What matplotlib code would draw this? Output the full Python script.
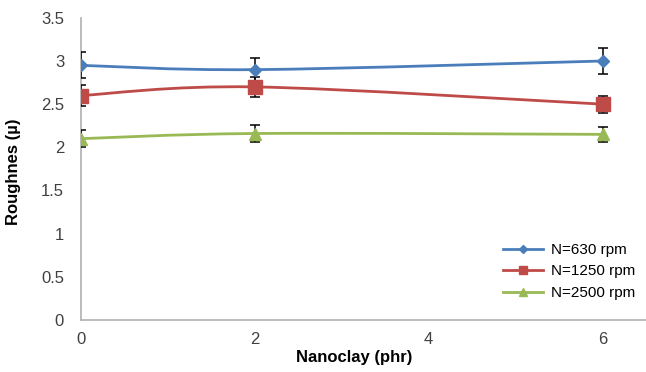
import numpy as np
import matplotlib.pyplot as plt
from matplotlib.path import Path
from matplotlib.patches import PathPatch

plt.rcParams['font.family'] = ['Liberation Sans', 'DejaVu Sans']

# data
nanoclay = [0, 2, 6]
labels = ['N=630 rpm', 'N=1250 rpm', 'N=2500 rpm']
rough_630 = [2.95, 2.90, 3.00]
rough_1250 = [2.60, 2.70, 2.50]
rough_2500 = [2.10, 2.16, 2.15]
err_630 = [0.15, 0.14, 0.15]
err_1250 = [0.12, 0.12, 0.10]
err_2500 = [0.10, 0.10, 0.09]

colors = ['#4A7EBB', '#BE4B48', '#98B954']
markers = ['D', 's', '^']
msizes = [6.5, 10, 9]

def smooth_path(x, y):
    # excel style smoothed line: cubic bezier through the points
    x = np.asarray(x, float)
    y = np.asarray(y, float)
    n = len(x)
    verts = [(x[0], y[0])]
    codes = [Path.MOVETO]
    for i in range(n - 1):
        i0 = max(i - 1, 0)
        i3 = min(i + 2, n - 1)
        c1 = (x[i] + (x[i+1] - x[i0]) / 6, y[i] + (y[i+1] - y[i0]) / 6)
        c2 = (x[i+1] - (x[i3] - x[i]) / 6, y[i+1] - (y[i3] - y[i]) / 6)
        verts += [c1, c2, (x[i+1], y[i+1])]
        codes += [Path.CURVE4] * 3
    return Path(verts, codes)

fig = plt.figure(figsize=(6.46, 3.72), dpi=100)
ax = fig.add_axes([0.125, 0.14, 0.875, 0.812])

series = [rough_630, rough_1250, rough_2500]
errs = [err_630, err_1250, err_2500]
for s, e, c, m, ms, lab in zip(series, errs, colors, markers, msizes, labels):
    ax.add_patch(PathPatch(smooth_path(nanoclay, s), fill=False, edgecolor=c, lw=2.0, zorder=2))
    ax.errorbar(nanoclay, s, yerr=e, fmt='none', ecolor='black', elinewidth=1.1,
                capsize=3.5, capthick=1.1, zorder=3)
    ax.plot(nanoclay, s, linestyle='none', marker=m, color=c, markersize=ms, zorder=4)
    ax.plot([], [], color=c, lw=2.0, marker=m, markersize=ms * 0.6, label=lab)

ax.set_xlim(0, 6.5)
ax.set_ylim(0, 3.5)
ax.set_xticks([0, 2, 4, 6])
ax.set_yticks(np.arange(0, 3.51, 0.5))
ax.set_yticklabels(['0', '0.5', '1', '1.5', '2', '2.5', '3', '3.5'])
ax.tick_params(length=0, labelsize=12, colors='#404040')
ax.tick_params(axis='y', pad=12)
ax.tick_params(axis='x', pad=9)
for side in ['top', 'right']:
    ax.spines[side].set_visible(False)
for side in ['left', 'bottom']:
    ax.spines[side].set_color('#b0b0b0')
    ax.spines[side].set_linewidth(1.2)

ax.set_xlabel('Nanoclay (phr)', fontsize=12, fontweight='bold', labelpad=4)
ax.set_ylabel('Roughnes (\u00b5)', fontsize=12, fontweight='bold', labelpad=8)
ax.yaxis.set_label_coords(-0.105, 0.49)
ax.xaxis.set_label_coords(0.483, -0.1)
ax.xaxis.label.set_va('top')

ax.legend(loc='lower right', bbox_to_anchor=(1.005, 0.02), frameon=False, fontsize=11,
          handlelength=2.6, labelspacing=0.5, handletextpad=0.5)

plt.savefig('out.png', dpi=100)
